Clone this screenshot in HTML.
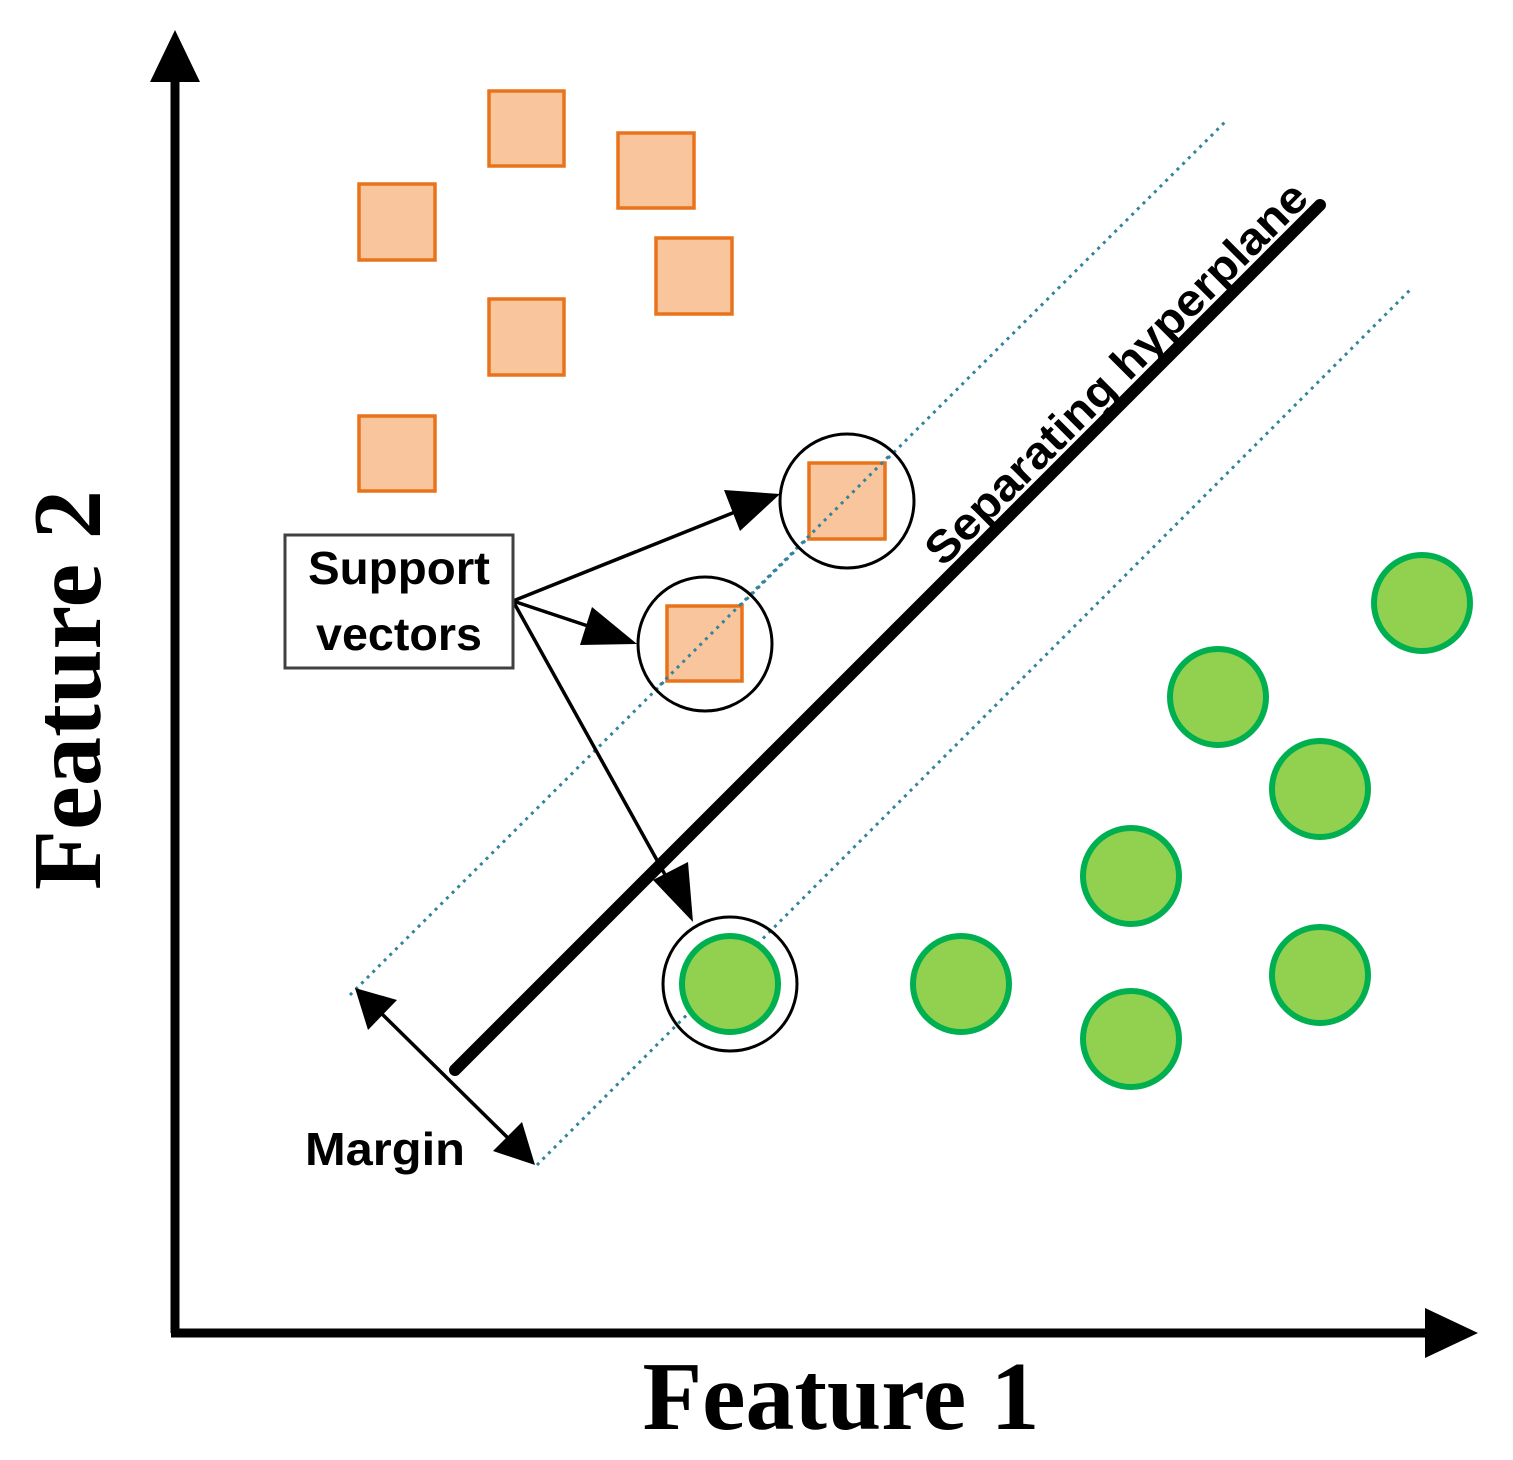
<!DOCTYPE html>
<html><head><meta charset="utf-8"><style>html,body{margin:0;padding:0;background:#fff}</style></head>
<body>
<svg width="1513" height="1455" viewBox="0 0 1513 1455" xmlns="http://www.w3.org/2000/svg">
<!-- axes -->
<line x1="175" y1="75" x2="175" y2="1333" stroke="#000" stroke-width="9"/>
<line x1="171" y1="1333" x2="1430" y2="1333" stroke="#000" stroke-width="9"/>
<polygon points="175,30 150,82 200,82" fill="#000"/>
<polygon points="1478,1333 1425,1308 1425,1358" fill="#000"/>
<!-- dotted margin lines -->
<line x1="350" y1="995" x2="1225" y2="122" stroke="#31849b" stroke-width="3" stroke-dasharray="3,5"/>
<line x1="537" y1="1165" x2="1410" y2="290" stroke="#31849b" stroke-width="3" stroke-dasharray="3,5"/>
<!-- hyperplane -->
<line x1="455" y1="1070" x2="1320" y2="205" stroke="#000" stroke-width="12" stroke-linecap="round"/>
<!-- squares -->
<g fill="#f8c59c" stroke="#e8731b" stroke-width="3.5">
<rect x="489" y="91" width="75" height="75"/>
<rect x="618" y="133" width="76" height="75"/>
<rect x="359" y="184" width="76" height="76"/>
<rect x="656" y="238" width="76" height="76"/>
<rect x="489" y="299" width="75" height="76"/>
<rect x="359" y="416" width="76" height="75"/>
<rect x="809" y="463" width="76" height="76"/>
<rect x="667" y="606" width="75" height="75"/>
</g>
<line x1="660" y1="685" x2="890" y2="455" stroke="#31849b" stroke-width="3" stroke-dasharray="3,5"/>
<!-- green circles -->
<g fill="#92d050" stroke="#00b050" stroke-width="6">
<circle cx="1422" cy="603" r="48"/>
<circle cx="1218" cy="697" r="48"/>
<circle cx="1320" cy="789" r="48"/>
<circle cx="1131" cy="876" r="48"/>
<circle cx="961" cy="984" r="48"/>
<circle cx="1131" cy="1039" r="48"/>
<circle cx="1320" cy="975" r="48"/>
<circle cx="730" cy="984" r="48"/>
</g>
<g fill="none" stroke="#000" stroke-width="3">
<circle cx="847" cy="501" r="67"/>
<circle cx="705" cy="644" r="67"/>
<circle cx="730" cy="984" r="67"/>
</g>
<g stroke="#000" stroke-width="3.5">
<line x1="513" y1="601" x2="740" y2="510"/>
<line x1="513" y1="601" x2="600" y2="630"/>
<line x1="513" y1="601" x2="668" y2="880"/>
<line x1="380" y1="1012" x2="510" y2="1140"/>
</g>
<polygon points="780,494 724,490 740,531" fill="#000"/>
<polygon points="637,644 592,607 580,645" fill="#000"/>
<polygon points="693,922 653,880 688,862" fill="#000"/>
<polygon points="355,988 368,1030 397,1000" fill="#000"/>
<polygon points="535,1165 493,1151 522,1122" fill="#000"/>
<rect x="285" y="535" width="228" height="133" fill="#fff" stroke="#404040" stroke-width="3"/>
<g font-family="Liberation Sans, sans-serif" font-weight="bold" font-size="46" fill="#000" text-anchor="middle">
<text x="399" y="584" textLength="182" lengthAdjust="spacingAndGlyphs">Support</text>
<text x="399" y="650" textLength="166" lengthAdjust="spacingAndGlyphs">vectors</text>
<text x="385" y="1165" textLength="160" lengthAdjust="spacingAndGlyphs">Margin</text>
<text transform="translate(1127,384) rotate(-45)" font-size="45" textLength="520" lengthAdjust="spacingAndGlyphs">Separating hyperplane</text>
</g>
<g font-family="Liberation Serif, serif" font-weight="bold" font-size="98" fill="#000" text-anchor="middle">
<text x="841" y="1429" textLength="397" lengthAdjust="spacingAndGlyphs">Feature 1</text>
<text transform="translate(100,690) rotate(-90)" textLength="400" lengthAdjust="spacingAndGlyphs">Feature 2</text>
</g>
</svg>
</body></html>
